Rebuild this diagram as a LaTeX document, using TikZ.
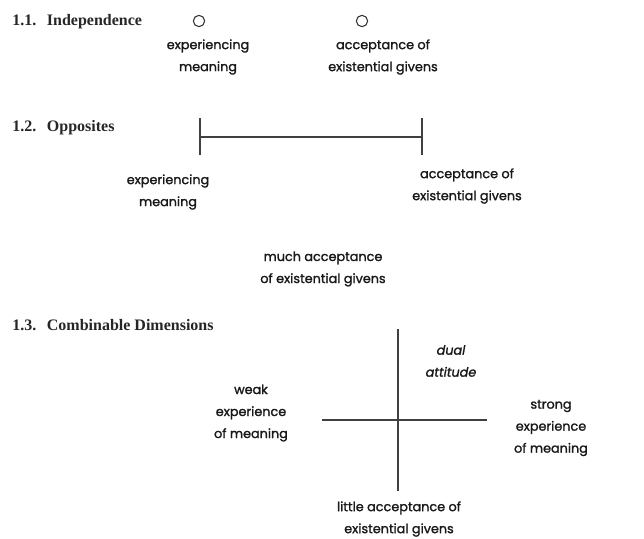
\documentclass[tikz,border=0pt]{standalone}
\usepackage{fontspec}
\setmainfont{Poppins}[FakeBold=1.5]
\newfontfamily\headfont{Liberation Serif}
\begin{document}
\begin{tikzpicture}[x=0.75pt,y=-0.75pt,
  lbl/.style={align=center,inner sep=0pt,font=\fontsize{9.6}{16.5}\selectfont,text=black!90},
  head/.style={anchor=west,inner sep=0pt,font=\headfont\bfseries\fontsize{12}{14}\selectfont,text=black!85},
  ln/.style={draw=black!75,line width=0.8pt},
  dot/.style={circle,draw=black!80,line width=0.8pt,minimum size=8.5pt,inner sep=0pt}]
\useasboundingbox (0,0) rectangle (644,539);
% headings
\node[head] (h1) at (12,22) {1.1.\hspace{8pt}Independence};
\node[head] (h2) at (12,128) {1.2.\hspace{8pt}Opposites};
\node[head] (h3) at (12,325) {1.3.\hspace{8pt}Combinable Dimensions};
% 1.1
\node[dot] (c1) at (199,21) {};
\node[dot] (c2) at (362,21) {};
\node[lbl] (t11) at (208,57) {experiencing\\meaning};
\node[lbl] (t12) at (383,57) {acceptance of\\existential givens};
% 1.2
\coordinate (a1) at (200,118);
\coordinate (a2) at (200,155);
\coordinate (b1) at (422,118);
\coordinate (b2) at (422,155);
\coordinate (am) at (200,137);
\coordinate (bm) at (422,137);
\draw[ln] (a1) -- (a2);
\draw[ln] (b1) -- (b2);
\draw[ln] (am) -- (bm);
\node[lbl] (t21) at (168,192) {experiencing\\meaning};
\node[lbl] (t22) at (467,186) {acceptance of\\existential givens};
% 1.3
\node[lbl] (t31) at (323,269) {much acceptance\\of existential givens};
\coordinate (vt) at (398,329);
\coordinate (vb) at (398,491);
\coordinate (hl) at (322,420);
\coordinate (hr) at (487,420);
\draw[ln] (vt) -- (vb);
\draw[ln] (hl) -- (hr);
\node[lbl,font=\fontsize{9.6}{16.5}\selectfont\itshape] (t32) at (451,361) {dual\\attitude};
\node[lbl] (t33) at (251,413) {weak\\experience\\of meaning};
\node[lbl] (t34) at (551,428) {strong\\experience\\of meaning};
\node[lbl] (t35) at (399,519) {little acceptance of\\existential givens};
\end{tikzpicture}
\end{document}
